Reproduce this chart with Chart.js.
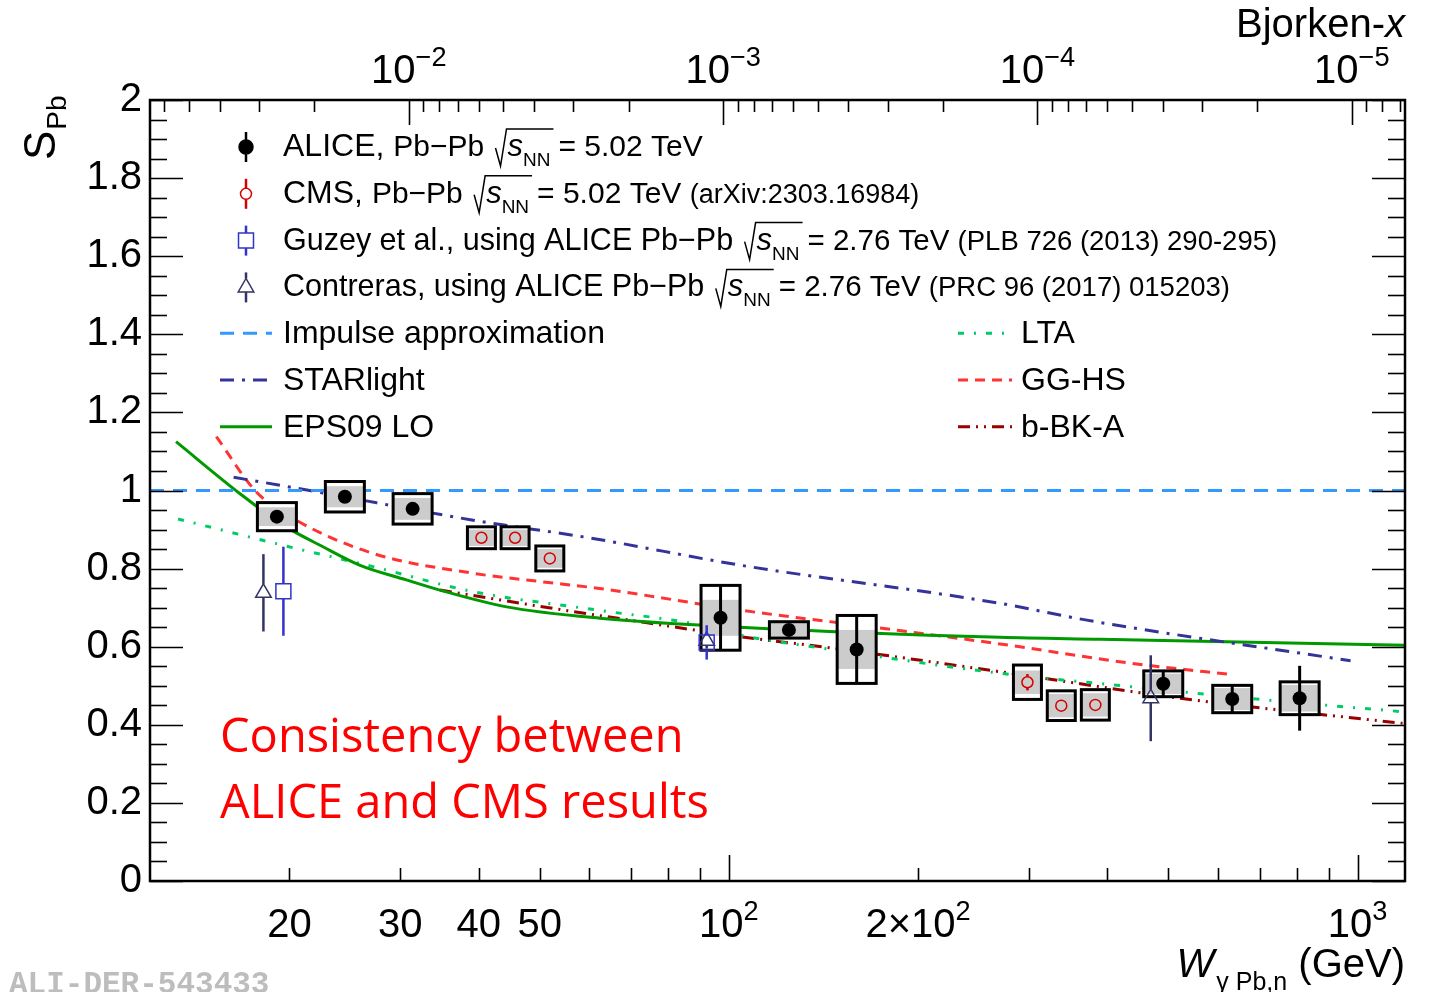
<!DOCTYPE html>
<html>
<head>
<meta charset="utf-8">
<script src="https://cdn.jsdelivr.net/npm/chart.js@4.4.1/dist/chart.umd.min.js"></script>
<style>
  html, body { margin: 0; padding: 0; background: #fff; }
</style>
</head>
<body>
<canvas id="c" width="1434" height="992"></canvas>
<script>
// J/psi mass, used to map W onto Bjorken-x for the top axis
const M_JPSI = 3.0969;
const W_MIN = 12;
const W_MAX = 1190;

// ALICE Pb-Pb 5.02 TeV
const aliceW = [19.1, 24.5, 31.4, 97.0, 124.6, 159.7, 490.9, 632, 809];
const aliceS = [0.933, 0.984, 0.953, 0.674, 0.643, 0.593, 0.505, 0.466, 0.468];
const aliceStat = [0.01, 0.01, 0.01, 0.083, 0.01, 0.087, 0.034, 0.034, 0.083];
const aliceSys = [0.036, 0.039, 0.039, 0.083, 0.021, 0.087, 0.033, 0.035, 0.042];
const aliceSysGray = [0.024, 0.027, 0.028, 0.046, 0.019, 0.050, 0.026, 0.028, 0.034];

// CMS Pb-Pb 5.02 TeV
const cmsW = [40.4, 45.7, 51.9, 298.5, 337.9, 382.8];
const cmsS = [0.879, 0.879, 0.826, 0.509, 0.449, 0.451];
const cmsStat = [0.008, 0.008, 0.008, 0.021, 0.008, 0.008];
const cmsSys = [0.028, 0.028, 0.032, 0.044, 0.038, 0.039];
const cmsSysGray = [0.021, 0.021, 0.024, 0.030, 0.030, 0.030];

// Guzey et al. (2.76 TeV)
const guzeyW = [19.56, 92.2];
const guzeyS = [0.742, 0.611];
const guzeyErr = [0.114, 0.044];

// Contreras (2.76 TeV)
const contrW = [18.18, 92.2, 468.9];
const contrS = [0.738, 0.615, 0.468];
const contrErr = [0.099, 0.02, 0.11];

// model curves
const impulseW = [W_MIN, W_MAX];
const impulseS = [1, 1];
const starW = [16.3, 22.05, 39.2, 60.4, 104, 270, 371, 975];
const starS = [1.034, 0.997, 0.924, 0.878, 0.809, 0.711, 0.668, 0.564];
const epsW = [13.2, 16.65, 19.51, 22.6, 25.85, 30.68, 34.7, 44.3, 62.3, 104, 270, 390, 1190];
const epsS = [1.125, 0.993, 0.912, 0.856, 0.809, 0.771, 0.745, 0.702, 0.673, 0.650, 0.624, 0.619, 0.604];
const ltaW = [13.3, 19.5, 27.15, 39.2, 61.6, 89.9, 104, 146.6, 270, 435, 668, 1190];
const ltaS = [0.927, 0.860, 0.805, 0.741, 0.694, 0.656, 0.630, 0.592, 0.532, 0.498, 0.468, 0.433];
const gghsW = [15.3, 17.7, 20.5, 27.15, 39.2, 50.0, 62.3, 104, 169.7, 270, 435, 635];
const gghsS = [1.138, 0.997, 0.924, 0.839, 0.788, 0.767, 0.749, 0.694, 0.650, 0.607, 0.558, 0.528];
const bbkW = [34.7, 56.5, 63.9, 104, 146.6, 270, 522, 1190];
const bbkS = [0.745, 0.690, 0.677, 0.626, 0.596, 0.536, 0.468, 0.403];

// tick labels
const yTicks = [0, 0.2, 0.4, 0.6, 0.8, 1, 1.2, 1.4, 1.6, 1.8, 2];
const wLabelVals = [20, 30, 40, 50, 100, 200, 1000];
const wLabelBase = ['20', '30', '40', '50', '10', '2\u00d710', '10'];
const wLabelSup = ['', '', '', '', '2', '2', '3'];
const xLabelVals = [1e-2, 1e-3, 1e-4, 1e-5];
const xLabelSup = ['\u22122', '\u22123', '\u22124', '\u22125'];

const FONT = '"Liberation Sans", Arial, Helvetica, sans-serif';
const font = (size, italic) => (italic ? 'italic ' : '') + size + 'px ' + FONT;
const bjx = w => (M_JPSI / w) ** 2;
const pts = (xs, ys) => xs.map((x, i) => ({ x: x, y: ys[i] }));

const C_IMPULSE = 'rgb(51,153,255)';
const C_STAR = 'rgb(51,51,153)';
const C_EPS = 'rgb(0,153,0)';
const C_LTA = 'rgb(0,204,102)';
const C_GGHS = 'rgb(255,51,51)';
const C_BBK = 'rgb(153,0,0)';
const C_CMS = 'rgb(214,0,0)';
const C_GUZEY = 'rgb(51,51,204)';
const C_CONTR = 'rgb(51,51,102)';

const D_IMPULSE = [14, 9];
const D_STAR = [14, 8, 3, 8];
const D_LTA = [6, 10, 2, 10];
const D_GGHS = [10, 7];
const D_BBK = [12, 6, 2, 6, 2, 6];

function curve(label, ws, ss, color, dash) {
  return {
    label: label,
    data: pts(ws, ss),
    showLine: true,
    borderColor: color,
    borderWidth: 3,
    borderDash: dash,
    pointRadius: 0,
    cubicInterpolationMode: 'monotone',
    order: 10
  };
}

const datasets = [
  { label: 'Guzey', data: pts(guzeyW, guzeyS), errs: guzeyErr, gapUp: 7.5, gapDown: 7.5, barColor: C_GUZEY, barWidth: 2.5,
    pointStyle: 'rect', pointRadius: 10.6, borderColor: C_GUZEY, borderWidth: 1.5, backgroundColor: 'rgba(0,0,0,0)', order: 0 },
  { label: 'Contreras', data: pts(contrW, contrS), errs: contrErr, gapUp: 9, gapDown: 4.5, barColor: C_CONTR, barWidth: 2.5,
    pointStyle: 'triangle', pointRadius: 9, borderColor: C_CONTR, borderWidth: 1.5, backgroundColor: 'rgba(0,0,0,0)', order: 1 },
  { label: 'CMS', data: pts(cmsW, cmsS), errs: cmsStat, sys: cmsSys, sysGray: cmsSysGray, boxHalf: 14, gapUp: 5.5, gapDown: 5.5,
    barColor: C_CMS, barWidth: 2.5, pointStyle: 'circle', pointRadius: 5.5, borderColor: C_CMS, borderWidth: 1.5,
    backgroundColor: 'rgba(0,0,0,0)', order: 2 },
  { label: 'ALICE', data: pts(aliceW, aliceS), errs: aliceStat, sys: aliceSys, sysGray: aliceSysGray, boxHalf: 19.5, gapUp: 6, gapDown: 6,
    barColor: '#000', barWidth: 3, pointStyle: 'circle', pointRadius: 7, borderWidth: 0, backgroundColor: '#000', order: 3 },
  curve('Impulse approximation', impulseW, impulseS, C_IMPULSE, D_IMPULSE),
  curve('STARlight', starW, starS, C_STAR, D_STAR),
  curve('EPS09 LO', epsW, epsS, C_EPS, []),
  curve('LTA', ltaW, ltaS, C_LTA, D_LTA),
  curve('GG-HS', gghsW, gghsS, C_GGHS, D_GGHS),
  curve('b-BK-A', bbkW, bbkS, C_BBK, D_BBK)
];

function line(ctx, x1, y1, x2, y2) {
  ctx.beginPath(); ctx.moveTo(x1, y1); ctx.lineTo(x2, y2); ctx.stroke();
}

function supLabel(ctx, cx, base, main, sup, size) {
  ctx.font = font(size);
  const w1 = ctx.measureText(main).width;
  ctx.font = font(size * 0.68);
  const w2 = sup ? ctx.measureText(sup).width : 0;
  const x = cx - (w1 + w2) / 2;
  ctx.textAlign = 'left';
  ctx.font = font(size);
  ctx.fillText(main, x, base);
  if (sup) {
    ctx.font = font(size * 0.68);
    ctx.fillText(sup, x + w1, base - size * 0.42);
  }
}

// text pieces drawn left to right; {root:true} draws sqrt(s_NN)
function rich(ctx, x, base, parts) {
  ctx.textAlign = 'left';
  ctx.fillStyle = '#000';
  for (const p of parts) {
    if (p.root) {
      ctx.font = font(31, true);
      const ws = ctx.measureText('s').width;
      ctx.font = font(19);
      const wn = ctx.measureText('NN').width;
      const x0 = x + 3;
      ctx.strokeStyle = '#000';
      ctx.lineWidth = 1.5;
      ctx.beginPath();
      ctx.moveTo(x0, base - 8);
      ctx.lineTo(x0 + 5, base + 10);
      ctx.lineTo(x0 + 11, base - 27);
      ctx.lineTo(x0 + 14 + ws + wn + 1, base - 27);
      ctx.stroke();
      ctx.font = font(31, true);
      ctx.fillText('s', x0 + 12, base);
      ctx.font = font(19);
      ctx.fillText('NN', x0 + 12 + ws, base + 10);
      x = x0 + 12 + ws + wn + 8;
    } else {
      ctx.font = font(p.s);
      ctx.fillText(p.t, x, base);
      x += ctx.measureText(p.t).width;
    }
  }
}

const legendRows = [
  [{ t: 'ALICE, ', s: 32 }, { t: 'Pb\u2212Pb ', s: 30 }, { root: true }, { t: '= 5.02 TeV', s: 30 }],
  [{ t: 'CMS, ', s: 32 }, { t: 'Pb\u2212Pb ', s: 30 }, { root: true }, { t: '= 5.02 TeV ', s: 30 }, { t: '(arXiv:2303.16984)', s: 27 }],
  [{ t: 'Guzey et al., using ALICE Pb\u2212Pb ', s: 30.5 }, { root: true }, { t: '= 2.76 TeV ', s: 29.5 }, { t: '(PLB 726 (2013) 290-295)', s: 27.5 }],
  [{ t: 'Contreras, using ALICE Pb\u2212Pb ', s: 30.5 }, { root: true }, { t: '= 2.76 TeV ', s: 29.5 }, { t: '(PRC 96 (2017) 015203)', s: 27.5 }]
];
const legendLines = [
  ['Impulse approximation', C_IMPULSE, D_IMPULSE, 'LTA', C_LTA, D_LTA],
  ['STARlight', C_STAR, D_STAR, 'GG-HS', C_GGHS, D_GGHS],
  ['EPS09 LO', C_EPS, [], 'b-BK-A', C_BBK, D_BBK]
];

const rootStyle = {
  id: 'rootStyle',
  beforeDatasetDraw(chart, args) {
    const ds = chart.data.datasets[args.index];
    if (!ds.errs) return;
    const ctx = chart.ctx, xs = chart.scales.x, ys = chart.scales.y;
    ctx.save();
    ds.data.forEach((p, i) => {
      const px = xs.getPixelForValue(p.x);
      if (ds.sys) {
        const hw = ds.boxHalf;
        const t = ys.getPixelForValue(p.y + ds.sys[i]);
        const b = ys.getPixelForValue(p.y - ds.sys[i]);
        const gt = ys.getPixelForValue(p.y + ds.sysGray[i]);
        const gb = ys.getPixelForValue(p.y - ds.sysGray[i]);
        ctx.fillStyle = '#fff';
        ctx.fillRect(px - hw, t, 2 * hw, b - t);
        ctx.fillStyle = '#cccccc';
        ctx.fillRect(px - hw, gt, 2 * hw, gb - gt);
        ctx.strokeStyle = '#000';
        ctx.lineWidth = 3;
        ctx.strokeRect(px - hw, t, 2 * hw, b - t);
      }
      const yc = ys.getPixelForValue(p.y);
      const yt = ys.getPixelForValue(p.y + ds.errs[i]);
      const yb = ys.getPixelForValue(p.y - ds.errs[i]);
      ctx.strokeStyle = ds.barColor;
      ctx.lineWidth = ds.barWidth;
      if (yc - yt > ds.gapUp) line(ctx, px, yt, px, yc - ds.gapUp);
      if (yb - yc > ds.gapDown) line(ctx, px, yc + ds.gapDown, px, yb);
    });
    ctx.restore();
  },
  afterDatasetsDraw(chart) {
    const ctx = chart.ctx;
    const { left, right, top, bottom } = chart.chartArea;
    const xs = chart.scales.x, xt = chart.scales.xTop, ys = chart.scales.y;
    ctx.save();
    ctx.setLineDash([]);
    ctx.strokeStyle = '#000';
    ctx.fillStyle = '#000';

    // y ticks, both sides
    ctx.lineWidth = 1.6;
    for (let k = 0; k <= 40; k++) {
      const v = k * 0.05;
      const py = Math.round(ys.getPixelForValue(v)) + 0.5;
      const len = k % 4 === 0 ? 33 : 17;
      line(ctx, left, py, left + len, py);
      line(ctx, right, py, right - len, py);
    }
    // bottom W ticks
    for (let e = 1; e <= 3; e++) {
      for (let m = 1; m <= 9; m++) {
        const v = m * Math.pow(10, e);
        if (v < W_MIN || v > W_MAX) continue;
        const px = Math.round(xs.getPixelForValue(v)) + 0.5;
        line(ctx, px, bottom, px, bottom - (m === 1 ? 26 : 13));
      }
    }
    // top Bjorken-x ticks
    for (let e = -6; e <= -1; e++) {
      for (let m = 1; m <= 9; m++) {
        const v = m * Math.pow(10, e);
        if (v < xt.min || v > xt.max) continue;
        const px = Math.round(xt.getPixelForValue(v)) + 0.5;
        line(ctx, px, top, px, top + (m === 1 ? 25 : 12));
      }
    }
    // frame
    ctx.lineWidth = 2.5;
    ctx.strokeRect(left, top, right - left, bottom - top);

    // tick labels
    ctx.textBaseline = 'alphabetic';
    wLabelVals.forEach((v, i) => {
      supLabel(ctx, xs.getPixelForValue(v), 937, wLabelBase[i], wLabelSup[i], 40);
    });
    xLabelVals.forEach((v, i) => {
      supLabel(ctx, xt.getPixelForValue(v), 83, '10', xLabelSup[i], 40);
    });

    // axis titles
    ctx.textAlign = 'right';
    ctx.font = font(40);
    const wx = ctx.measureText('x').width;
    ctx.font = font(40, true);
    ctx.fillText('x', right, 37);
    ctx.font = font(40);
    ctx.fillText('Bjorken-', right - wx, 37);

    ctx.font = font(40);
    ctx.fillText('(GeV)', right, 977);
    const wGeV = ctx.measureText(' (GeV)').width;
    ctx.font = font(25);
    ctx.fillText('\u03b3 Pb,n', right - wGeV, 990);
    const wSub = ctx.measureText('\u03b3 Pb,n').width;
    ctx.font = font(40, true);
    ctx.fillText('W', right - wGeV - wSub - 2, 977);

    ctx.save();
    ctx.translate(55, 160);
    ctx.rotate(-Math.PI / 2);
    ctx.textAlign = 'left';
    ctx.font = font(44);
    ctx.fillText('S', 0, 0);
    const wS = ctx.measureText('S').width;
    ctx.font = font(28);
    ctx.fillText('Pb', wS + 1, 11);
    ctx.restore();

    // legend: markers with their error bars
    const rowY = i => 156 + 46.8 * i;
    const mx = 246;
    const mk = (style, r, gu, gd, color, fill, y) => {
      ctx.strokeStyle = color;
      ctx.lineWidth = 2.5;
      line(ctx, mx, y - 15, mx, y - gu);
      line(ctx, mx, y + gd, mx, y + 15);
      ctx.fillStyle = fill;
      ctx.lineWidth = 1.5;
      Chart.helpers.drawPoint(ctx, { pointStyle: style, radius: r, rotation: 0, borderWidth: 1.5 }, mx, y);
    };
    mk('circle', 7, 6, 6, '#000', '#000', rowY(0) - 9);
    mk('circle', 5.5, 5.5, 5.5, C_CMS, 'rgba(0,0,0,0)', rowY(1) - 9);
    mk('rect', 10.6, 7.5, 7.5, C_GUZEY, 'rgba(0,0,0,0)', rowY(2) - 9);
    mk('triangle', 9, 9, 4.5, C_CONTR, 'rgba(0,0,0,0)', rowY(3) - 9);

    legendRows.forEach((parts, i) => rich(ctx, 283, rowY(i), parts));

    legendLines.forEach((row, i) => {
      const y = rowY(4 + i);
      [[220, 272, 283, 0], [958, 1012, 1021, 3]].forEach(([x1, x2, tx, o]) => {
        ctx.strokeStyle = row[o + 1];
        ctx.lineWidth = 3;
        ctx.setLineDash(row[o + 2]);
        line(ctx, x1, y - 10, x2, y - 10);
        ctx.setLineDash([]);
        ctx.fillStyle = '#000';
        ctx.textAlign = 'left';
        ctx.font = font(32);
        ctx.fillText(row[o], tx, y);
      });
    });

    // annotation
    ctx.fillStyle = '#ff0000';
    ctx.textAlign = 'left';
    ctx.font = '47px "Open Sans", "Noto Sans", sans-serif';
    ctx.fillText('Consistency between', 220, 752);
    ctx.fillText('ALICE and CMS results', 220, 818);

    // figure id
    ctx.fillStyle = '#bdbdbd';
    ctx.font = 'bold 31px "Liberation Mono", "DejaVu Sans Mono", monospace';
    ctx.fillText('ALI-DER-543433', 9, 993);
    ctx.restore();
  }
};

new Chart(document.getElementById('c'), {
  type: 'scatter',
  data: { datasets: datasets },
  options: {
    responsive: false,
    animation: false,
    layout: { padding: { left: 0, right: 29, top: 0, bottom: 0 } },
    plugins: { legend: { display: false }, tooltip: { enabled: false } },
    scales: {
      x: {
        type: 'logarithmic', position: 'bottom', min: W_MIN, max: W_MAX,
        grid: { display: false, drawTicks: false }, border: { display: false }, ticks: { display: false },
        afterFit: s => { s.height = 111; }
      },
      xTop: {
        type: 'logarithmic', position: 'top', reverse: true, min: bjx(W_MAX), max: bjx(W_MIN),
        grid: { display: false, drawTicks: false }, border: { display: false }, ticks: { display: false },
        afterFit: s => { s.height = 100; }
      },
      y: {
        type: 'linear', position: 'left', min: 0, max: 2,
        grid: { display: false, drawTicks: false }, border: { display: false },
        afterBuildTicks: s => { s.ticks = yTicks.map(v => ({ value: v })); },
        ticks: {
          color: '#000', padding: 8, autoSkip: false,
          font: { family: '"Liberation Sans", Arial, sans-serif', size: 40 },
          callback: v => String(+v.toFixed(2))
        },
        afterFit: s => { s.width = 150; }
      }
    }
  },
  plugins: [rootStyle]
});
</script>
</body>
</html>
